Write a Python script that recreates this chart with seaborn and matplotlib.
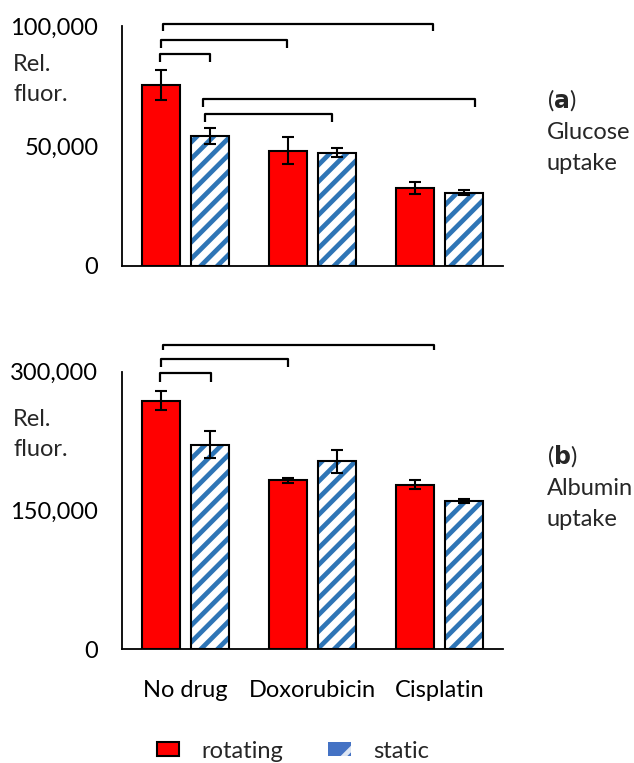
import matplotlib
matplotlib.use("Agg")
import matplotlib.pyplot as plt
from matplotlib.patches import Rectangle, Patch
from matplotlib.ticker import FuncFormatter
import seaborn as sns
import pandas as pd

# ---- data -----------------------------------------------------------------
drugs = ["No drug", "Doxorubicin", "Cisplatin"]
conditions = ["rotating", "static"]

glucose_rotating = [75500, 48100, 32600]
glucose_rotating_err = [6300, 5500, 2600]
glucose_static = [54100, 47200, 30600]
glucose_static_err = [3200, 1900, 1200]

albumin_rotating = [268700, 182400, 177700]
albumin_rotating_err = [9900, 3000, 4700]
albumin_static = [220900, 202900, 159700]
albumin_static_err = [14600, 12400, 2200]

glucose_ticks = [0, 50000, 100000]
albumin_ticks = [0, 150000, 300000]

# significance brackets: (x left, x right, bar height, drop) in category units / data units
glucose_brackets = [(-0.18, 1.95, 101000, 3200),
                    (-0.19, 0.80, 94200, 3200),
                    (-0.20, 0.19, 88500, 3700),
                    (0.14, 2.28, 69600, 3400),
                    (0.15, 1.15, 63400, 3200)]
albumin_brackets = [(-0.18, 1.96, 328800, 5400),
                    (-0.19, 0.81, 313700, 9100),
                    (-0.20, 0.20, 298200, 9800)]

RED = "#FF0000"
BLUE = "#2E75B6"

sns.set_style("white")
plt.rcParams["font.family"] = ["Lato", "DejaVu Sans"]
plt.rcParams["hatch.linewidth"] = 3.4
FS = 17

W, H = 634, 763
fig = plt.figure(figsize=(W / 100, H / 100), dpi=100)


def fx(px):
    return px / W


def fy(py):
    return 1 - py / H


ax_a = fig.add_axes([fx(122), fy(266), fx(503) - fx(122), fy(26) - fy(266)])
ax_b = fig.add_axes([fx(122), fy(649), fx(503) - fx(122), fy(371.7) - fy(649)])


def make_frame(rot, rot_err, stat, stat_err):
    return pd.DataFrame({
        "drug": drugs * 2,
        "condition": ["rotating"] * 3 + ["static"] * 3,
        "value": rot + stat,
        "err": rot_err + stat_err,
    })


def draw_panel(ax, df, ticks, ymax, brackets):
    sns.barplot(data=df, x="drug", y="value", hue="condition",
                order=drugs, hue_order=conditions,
                palette={"rotating": RED, "static": "white"}, saturation=1,
                width=0.78, gap=0.24, edgecolor="black", linewidth=1.5,
                errorbar=None, legend=False, ax=ax)

    # striped bars: blue hatch with a separate black outline
    for bar in ax.containers[1]:
        bar.set_edgecolor(BLUE)
        bar.set_linewidth(0)
        bar.set_hatch("//")
        ax.add_patch(Rectangle(bar.get_xy(), bar.get_width(), bar.get_height(),
                               fill=False, edgecolor="black", linewidth=1.5,
                               zorder=bar.get_zorder() + 0.1))

    for container, cond in zip(ax.containers, conditions):
        sub = df[df["condition"] == cond].set_index("drug").loc[drugs]
        xs = [b.get_x() + b.get_width() / 2 for b in container]
        ax.errorbar(xs, sub["value"].values, yerr=sub["err"].values, fmt="none",
                    ecolor="black", elinewidth=1.5, capsize=4, capthick=1.5,
                    zorder=5)

    for x0, x1, y, drop in brackets:
        ax.plot([x0, x0, x1, x1], [y - drop, y, y, y - drop], color="black",
                lw=1.6, clip_on=False, solid_capstyle="butt", zorder=6)

    ax.set_xlim(-0.5, 2.5)
    ax.set_ylim(0, ymax)
    ax.set_yticks(ticks)
    ax.yaxis.set_major_formatter(FuncFormatter(lambda v, p: f"{int(v):,}"))
    ax.tick_params(axis="y", length=0, pad=17, labelsize=FS, labelcolor="black")
    ax.tick_params(axis="x", length=0, pad=22, labelsize=FS, labelcolor="black")
    ax.set_xlabel("")
    ax.set_ylabel("")
    for s in ["top", "right"]:
        ax.spines[s].set_visible(False)
    for s in ["left", "bottom"]:
        ax.spines[s].set_color("black")
        ax.spines[s].set_linewidth(1.3)


draw_panel(ax_a, make_frame(glucose_rotating, glucose_rotating_err,
                            glucose_static, glucose_static_err),
           glucose_ticks, 100000, glucose_brackets)
draw_panel(ax_b, make_frame(albumin_rotating, albumin_rotating_err,
                            albumin_static, albumin_static_err),
           albumin_ticks, 300000, albumin_brackets)
ax_a.set_xticklabels([])

# axis captions and panel titles
for base in (70.7, 426):
    fig.text(fx(13), fy(base), "Rel.", fontsize=FS, va="baseline", ha="left")
    fig.text(fx(13), fy(base + 30), "fluor.", fontsize=FS, va="baseline", ha="left")

for letter, base, words in (("a", 108, ["Glucose", "uptake"]),
                            ("b", 464, ["Albumin", "uptake"])):
    fig.text(fx(547), fy(base), r"($\bf{" + letter + r"}$)", fontsize=FS,
             va="baseline", ha="left")
    for i, w in enumerate(words):
        fig.text(fx(547), fy(base + 31 * (i + 1)), w, fontsize=FS,
                 va="baseline", ha="left")

handles = [Patch(facecolor=RED, edgecolor="black", linewidth=1.5),
           Patch(facecolor="#4472C4", edgecolor="#DDE6F4", hatch="/", linewidth=0)]
fig.legend(handles, conditions, loc="center", bbox_to_anchor=(fx(293), fy(751)),
           ncol=2, frameon=False, fontsize=FS, handlelength=0.95,
           handleheight=0.5, handletextpad=0.95, columnspacing=1.9)

fig.savefig("out.png", dpi=100)
